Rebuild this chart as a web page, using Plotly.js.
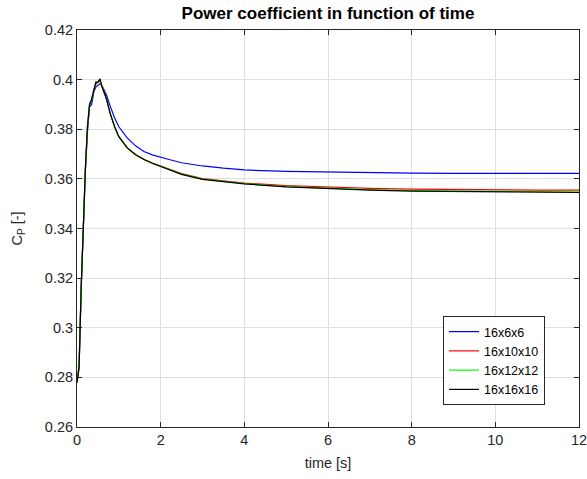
<!DOCTYPE html>
<html>
<head>
<meta charset="utf-8">
<script src="https://cdn.plot.ly/plotly-3.0.1.min.js"></script>
<style>html,body{margin:0;padding:0;background:#fff;}#chart{width:587px;height:479px;}</style>
</head>
<body>
<div id="chart"></div>
<script>
// time [s]
const time = [0, 0.05, 0.1, 0.15, 0.2, 0.25, 0.3, 0.35, 0.4, 0.45, 0.5, 0.55, 0.6, 0.7, 0.8, 0.9, 1.0, 1.2, 1.4, 1.6, 1.8, 2.0, 2.2, 2.5, 3.0, 3.5, 4.0, 5.0, 6.0, 7.0, 8.0, 9.0, 10.0, 11.0, 12.0];

const cp_16x6x6 = [0.278, 0.285, 0.316, 0.343, 0.363, 0.379, 0.389, 0.390, 0.395, 0.397, 0.3975, 0.3983, 0.3975, 0.394, 0.389, 0.3845, 0.381, 0.3765, 0.3733, 0.371, 0.3697, 0.3686, 0.3678, 0.3665, 0.3652, 0.3643, 0.3636, 0.3630, 0.3627, 0.3625, 0.3623, 0.3622, 0.3622, 0.3622, 0.3622];

const cp_16x10x10 = [0.278, 0.284, 0.316, 0.343, 0.364, 0.381, 0.390, 0.392, 0.396, 0.398, 0.399, 0.3995, 0.397, 0.3925, 0.386, 0.381, 0.377, 0.3726, 0.3698, 0.3679, 0.3664, 0.3651, 0.3638, 0.3621, 0.3601, 0.3591, 0.3583, 0.3573, 0.3566, 0.3562, 0.3559, 0.3557, 0.3556, 0.3555, 0.3555];

const cp_16x12x12 = [0.278, 0.284, 0.316, 0.343, 0.364, 0.381, 0.390, 0.392, 0.396, 0.399, 0.399, 0.400, 0.397, 0.3925, 0.386, 0.381, 0.377, 0.3725, 0.3697, 0.3678, 0.3663, 0.3650, 0.3637, 0.3619, 0.3599, 0.3589, 0.3581, 0.3569, 0.3562, 0.3557, 0.3553, 0.3551, 0.3550, 0.3549, 0.3548];

const cp_16x16x16 = [0.278, 0.284, 0.316, 0.343, 0.364, 0.381, 0.390, 0.392, 0.396, 0.399, 0.399, 0.4003, 0.397, 0.3925, 0.386, 0.381, 0.377, 0.3725, 0.3697, 0.3678, 0.3663, 0.3650, 0.3636, 0.3618, 0.3598, 0.3588, 0.3580, 0.3568, 0.3560, 0.3555, 0.3551, 0.3549, 0.3547, 0.3546, 0.3545];

const seriesNames = ['16x6x6', '16x10x10', '16x12x12', '16x16x16'];
const seriesValues = [cp_16x6x6, cp_16x10x10, cp_16x12x12, cp_16x16x16];
const seriesColors = ['#0000ff', '#ff0000', '#00ff00', '#000000'];

const xTicks = [0, 2, 4, 6, 8, 10, 12];
const yTicks = [0.26, 0.28, 0.3, 0.32, 0.34, 0.36, 0.38, 0.4, 0.42];
const yTickText = ['0.26', '0.28', '0.3', '0.32', '0.34', '0.36', '0.38', '0.4', '0.42'];

const traces = seriesNames.map((n, i) => ({
  x: time, y: seriesValues[i], name: n, type: 'scatter', mode: 'lines',
  line: {color: seriesColors[i], width: 1.2}
}));

const axisCol = '#262626';
const fam = 'Liberation Sans, Arial, Helvetica, sans-serif';
const tickFont = {family: fam, size: 14.5, color: axisCol};

const layout = {
  width: 587, height: 479,
  margin: {l: 77, r: 8, t: 30, b: 52},
  paper_bgcolor: '#fff', plot_bgcolor: '#fff',
  font: {family: fam, size: 14, color: axisCol},
  title: {text: 'Power coefficient in function of time', font: {family: fam, size: 17, color: '#000', weight: 'bold'},
          x: 0.5, xref: 'paper', xanchor: 'center', y: 1 - 13/479, yref: 'container', yanchor: 'middle'},
  xaxis: {range: [0, 12], tickvals: xTicks, ticktext: xTicks.map(String), ticklabeloverflow: 'allow',
          showgrid: true, gridcolor: '#dfdfdf', gridwidth: 1, zeroline: false,
          showline: true, linecolor: axisCol, linewidth: 1, mirror: 'ticks',
          ticks: 'inside', ticklen: 5, tickcolor: axisCol, tickfont: tickFont,
          title: {text: 'time [s]', font: {family: fam, size: 14.5, color: axisCol}, standoff: 10}},
  yaxis: {range: [0.26, 0.42], tickvals: yTicks, ticktext: yTickText,
          showgrid: true, gridcolor: '#dfdfdf', gridwidth: 1, zeroline: false,
          showline: true, linecolor: axisCol, linewidth: 1, mirror: 'ticks',
          ticks: 'inside', ticklen: 5, tickcolor: axisCol, tickfont: tickFont,
          title: {text: 'C<sub>P</sub> [-]', font: {family: fam, size: 14.5, color: axisCol}, standoff: 18}},
  showlegend: true,
  legend: {x: (443 - 77) / 502, y: (427 - 316) / 397, xanchor: 'left', yanchor: 'top',
           bgcolor: '#fff', bordercolor: axisCol, borderwidth: 1,
           font: {family: fam, size: 12.5, color: '#000'}, itemwidth: 30, tracegroupgap: 0}
};

Plotly.newPlot('chart', traces, layout, {displayModeBar: false, staticPlot: true});
</script>
</body>
</html>
